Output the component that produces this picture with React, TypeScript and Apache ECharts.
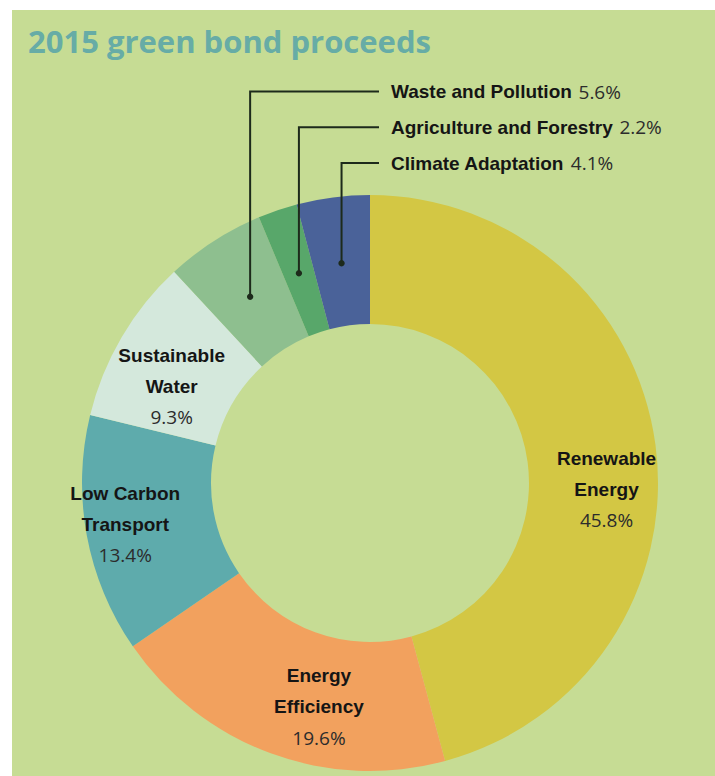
import React, { useEffect, useRef } from "react";
import * as echarts from "echarts";

// ---- data ----
const categories = [
  "Renewable\nEnergy",
  "Energy\nEfficiency",
  "Low Carbon\nTransport",
  "Sustainable\nWater",
  "Waste and Pollution",
  "Agriculture and Forestry",
  "Climate Adaptation",
];
const shares = [45.8, 19.6, 13.4, 9.3, 5.6, 2.2, 4.1];
const outsideNames = ["Waste and Pollution", "Agriculture and Forestry", "Climate Adaptation"];
const titleText = "2015 green bond proceeds";

// ---- style / layout ----
const sliceColors = ["#d3c744", "#f2a15e", "#5eabac", "#d4e8dc", "#8ebf8f", "#58a76a", "#4a6299"];
const BG = "#c6dc94";
const CENTER: [number, number] = [370, 483];
const RADII: [number, number] = [159, 288];
const MID_R = (RADII[0] + RADII[1]) / 2 - 2;
const insideOffsets: Record<number, [number, number]> = {
  0: [12, 36],
  1: [27, 11],
  2: [-22, 0],
  3: [-3, 18],
};
const ROW_Y0 = 91.5;
const ROW_GAP = 35.8;
const LINE_END_X = 379;
const LABEL_X = 391;
const LINE_COLOR = "#1d2a1b";
const BOLD_FONT = "'Liberation Sans', Arial, sans-serif";
const VALUE_FONT = "'Open Sans', 'Liberation Sans', sans-serif";

function dotPos(i: number): [number, number] {
  const total = shares.reduce((a, b) => a + b, 0);
  let cum = 0;
  for (let k = 0; k < i; k++) cum += shares[k];
  const a = ((cum + shares[i] / 2) / total) * Math.PI * 2;
  return [CENTER[0] + MID_R * Math.sin(a), CENTER[1] - MID_R * Math.cos(a)];
}

const richStyles = {
  n: { fontFamily: BOLD_FONT, fontWeight: "bold", fontSize: 19, color: "#151515" },
  v: { fontFamily: VALUE_FONT, fontSize: 19, color: "#2c2c2c" },
  b: {
    fontFamily: BOLD_FONT,
    fontWeight: "bold",
    fontSize: 19,
    color: "#151515",
    lineHeight: 31,
    align: "center",
  },
  p: {
    fontFamily: VALUE_FONT,
    fontSize: 19,
    color: "#2c2c2c",
    lineHeight: 31,
    align: "center",
  },
};

export default function App() {
  const ref = useRef<HTMLDivElement>(null);
  useEffect(() => {
    document.body.style.margin = "0";
    if (!ref.current) return;
    const chart = echarts.init(ref.current, undefined, { renderer: "svg" });

    // sectors with inside labels
    const sectorData = categories.map((name, i) => {
      const outside = outsideNames.indexOf(name) >= 0;
      return {
        name,
        value: shares[i],
        itemStyle: { color: sliceColors[i] },
        label: { show: !outside },
      };
    });

    // transparent overlay carrying the outside labels and leader lines
    const overlayData = categories.map((name, i) => {
      const outside = outsideNames.indexOf(name) >= 0;
      return {
        name,
        value: shares[i],
        itemStyle: { color: "rgba(0,0,0,0)" },
        label: { show: outside },
        labelLine: { show: outside },
      };
    });

    const dots = outsideNames.map((n) => {
      const i = categories.indexOf(n);
      const [x, y] = dotPos(i);
      return {
        type: "circle",
        z: 100,
        shape: { cx: x, cy: y, r: 3.2 },
        style: { fill: LINE_COLOR },
      };
    });

    chart.setOption({
      animation: false,
      backgroundColor: "#ffffff",
      title: {
        text: titleText,
        left: 23,
        top: 20,
        textStyle: {
          fontFamily: VALUE_FONT,
          fontSize: 31,
          fontWeight: "bold",
          color: "#67aca6",
        },
      },
      graphic: [
        {
          type: "rect",
          z: -100,
          shape: { x: 12, y: 10, width: 703, height: 766 },
          style: { fill: BG },
        },
        ...dots,
      ],
      series: [
        {
          type: "pie",
          z: 2,
          center: CENTER,
          radius: RADII,
          startAngle: 90,
          clockwise: true,
          avoidLabelOverlap: false,
          data: sectorData,
          label: {
            show: true,
            position: "inside",
            formatter: (p: any) => {
              const lines = String(p.name)
                .split("\n")
                .map((s: string) => `{b|${s}}`)
                .join("\n");
              return `${lines}\n{p|${p.value}%}`;
            },
            rich: richStyles,
          },
          labelLine: { show: false },
          labelLayout: (params: any) => {
            const o = insideOffsets[params.dataIndex] || [0, 0];
            return { dx: o[0], dy: o[1] };
          },
          emphasis: { disabled: true },
          silent: true,
        },
        {
          type: "pie",
          z: 5,
          center: CENTER,
          radius: RADII,
          startAngle: 90,
          clockwise: true,
          avoidLabelOverlap: false,
          data: overlayData,
          label: {
            show: true,
            position: "outside",
            formatter: (p: any) => `{n|${p.name}}  {v|${p.value}%}`,
            rich: richStyles,
          },
          labelLine: {
            show: true,
            lineStyle: { color: LINE_COLOR, width: 2 },
          },
          labelLayout: (params: any) => {
            const i = params.dataIndex;
            const k = outsideNames.indexOf(categories[i]);
            if (k < 0) return {};
            const [px, py] = dotPos(i);
            const rowY = ROW_Y0 + k * ROW_GAP;
            return {
              x: LABEL_X,
              y: rowY,
              align: "left",
              verticalAlign: "middle",
              labelLinePoints: [
                [px, py],
                [px, rowY],
                [LINE_END_X, rowY],
              ],
            };
          },
          emphasis: { disabled: true },
          silent: true,
        },
      ],
    });
    return () => chart.dispose();
  }, []);
  return <div ref={ref} style={{ width: 715, height: 776 }} />;
}
